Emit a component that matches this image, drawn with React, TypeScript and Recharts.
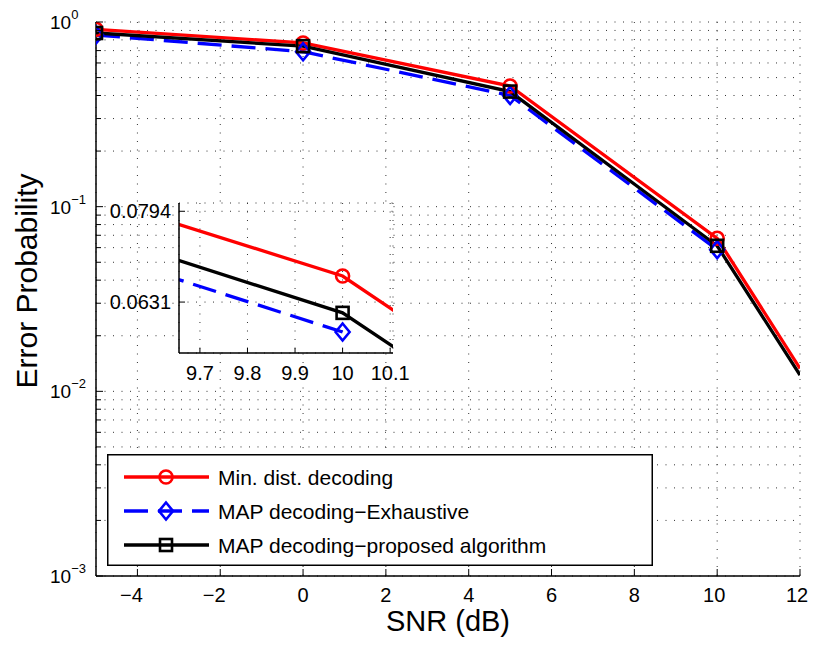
import React from 'react';
import { LineChart, Line, XAxis, YAxis, CartesianGrid, Legend } from 'recharts';

const FONT = '"Liberation Sans", Arial, Helvetica, sans-serif';

// ---- data ----
const SNR = [-5, 0, 5, 10, 12];
const MIN_DIST = [0.913, 0.77, 0.45, 0.0674, 0.0133];
const MAP_EXHAUSTIVE = [0.85, 0.69, 0.4, 0.0585, null];
const MAP_PROPOSED = [0.872, 0.74, 0.42, 0.0614, 0.01226];
const MARKED_SNR = [-5, 0, 5, 10];

const X_TICKS = [-4, -2, 0, 2, 4, 6, 8, 10, 12];
const X_DOMAIN = [-5, 12];
const Y_MAJOR = [0.001, 0.01, 0.1, 1];
const Y_MINOR_MULT = [2, 3, 4, 5, 6, 7, 8, 9];
const Y_DOMAIN = [0.001, 1];

const INSET_X_TICKS = [9.7, 9.8, 9.9, 10, 10.1];
const INSET_X_DOMAIN = [9.656, 10.106];
const INSET_Y_TICKS = [0.0631, 0.0794];
const INSET_Y_DOMAIN = [0.05547, 0.08108];

const SERIES = [
  { key: 'minDist', name: 'Min. dist. decoding', color: '#ff0000', dash: undefined as string | undefined, marker: 'circle' },
  { key: 'mapExh', name: 'MAP decoding\u2212Exhaustive', color: '#0000ff', dash: '24 10', marker: 'diamond' },
  { key: 'mapProp', name: 'MAP decoding\u2212proposed algorithm', color: '#000000', dash: undefined as string | undefined, marker: 'square' },
];

const data = SNR.map((s, i) => ({
  snr: s,
  minDist: MIN_DIST[i],
  mapExh: MAP_EXHAUSTIVE[i],
  mapProp: MAP_PROPOSED[i],
}));

const Y_TICKS = [
  ...Y_MAJOR,
  ...Y_MAJOR.slice(0, 3).flatMap((d) => Y_MINOR_MULT.map((m) => +(m * d).toPrecision(6))),
];

const isMajor = (v: number) => Math.abs(Math.log10(v) - Math.round(Math.log10(v))) < 1e-6;
const fmtX = (v: number) => (v < 0 ? `\u2212${Math.abs(v)}` : `${v}`);

const LW = 3.3;
const GRID_DASH = '1 7.5';
const GRID_COLOR = '#333';

function Marker({ kind, cx, cy, color }: { kind: string; cx: number; cy: number; color: string }) {
  if (kind === 'circle')
    return <circle cx={cx} cy={cy} r={6.5} fill="none" stroke={color} strokeWidth={2.6} />;
  if (kind === 'square')
    return <rect x={cx - 6} y={cy - 6} width={12} height={12} fill="none" stroke={color} strokeWidth={2.6} />;
  return (
    <polygon
      points={`${cx},${cy - 8.5} ${cx + 7},${cy} ${cx},${cy + 8.5} ${cx - 7},${cy}`}
      fill="none"
      stroke={color}
      strokeWidth={2.6}
    />
  );
}

const makeDot = (kind: string, color: string, tag: string) => (props: any) => {
  const { cx, cy, payload, index, value } = props;
  const k = `${tag}-${kind}-${index}`;
  if (cx == null || cy == null || value == null || Number.isNaN(cy) || !payload || !MARKED_SNR.includes(payload.snr))
    return <g key={k} />;
  return (
    <g key={k}>
      <Marker kind={kind} cx={cx} cy={cy} color={color} />
    </g>
  );
};

// ---- main chart ticks ----
function MainLeftTick(props: any) {
  const { x, y, payload } = props;
  const v = payload.value as number;
  const major = isMajor(v);
  const exp = Math.round(Math.log10(v));
  return (
    <g>
      <line x1={x} x2={x + (major ? 7 : 5)} y1={y} y2={y} stroke="#000" strokeWidth={1} />
      {major && (
        <text x={x - 46} y={y + 7} textAnchor="start" fontFamily={FONT} fontSize={19} fill="#000">
          <tspan>10</tspan>
          <tspan dy={-10} fontSize={13}>{exp === 0 ? '0' : `\u2212${Math.abs(exp)}`}</tspan>
        </text>
      )}
    </g>
  );
}
function MainRightTick(props: any) {
  const { x, y, payload } = props;
  const major = isMajor(payload.value);
  return <line x1={x} x2={x - (major ? 7 : 5)} y1={y} y2={y} stroke="#000" strokeWidth={1} />;
}
function MainBottomTick(props: any) {
  const { x, y, payload } = props;
  const v = payload.value as number;
  const dx = v < 0 ? -6 : v >= 10 ? -3 : 0;
  return (
    <g>
      <line x1={x} x2={x} y1={y} y2={y - 7} stroke="#000" strokeWidth={1} />
      <text x={x + dx} y={y + 26} textAnchor="middle" fontFamily={FONT} fontSize={20} fill="#000">
        {fmtX(v)}
      </text>
    </g>
  );
}
function MainTopTick(props: any) {
  const { x, y } = props;
  return <line x1={x} x2={x} y1={y} y2={y + 7} stroke="#000" strokeWidth={1} />;
}

// ---- inset ticks ----
function InsetLeftTick(props: any) {
  const { x, y, payload } = props;
  return (
    <g>
      <line x1={x} x2={x + 6} y1={y} y2={y} stroke="#000" strokeWidth={1} />
      <text x={x - 8} y={y + 7} textAnchor="end" fontFamily={FONT} fontSize={20} fill="#000">
        {(payload.value as number).toFixed(4)}
      </text>
    </g>
  );
}
function InsetRightTick(props: any) {
  const { x, y } = props;
  return <line x1={x} x2={x - 6} y1={y} y2={y} stroke="#000" strokeWidth={1} />;
}
function InsetBottomTick(props: any) {
  const { x, y, payload } = props;
  return (
    <g>
      <line x1={x} x2={x} y1={y} y2={y - 5} stroke="#000" strokeWidth={1} />
      <text x={x} y={y + 27} textAnchor="middle" fontFamily={FONT} fontSize={20} fill="#000">
        {String(payload.value)}
      </text>
    </g>
  );
}
function InsetTopTick(props: any) {
  const { x, y } = props;
  return <line x1={x} x2={x} y1={y} y2={y + 5} stroke="#000" strokeWidth={1} />;
}

// ---- legend ----
const LEGEND_W = 546;
const LEGEND_H = 112;
function LegendBox() {
  const rows = [23, 57, 91];
  return (
    <svg width={LEGEND_W} height={LEGEND_H} style={{ display: 'block' }}>
      <rect x={0.75} y={0.75} width={LEGEND_W - 1.5} height={LEGEND_H - 1.5} fill="#fff" stroke="#000" strokeWidth={1.5} />
      {SERIES.map((s, i) => (
        <g key={s.key}>
          <line x1={17} x2={102} y1={rows[i]} y2={rows[i]} stroke={s.color} strokeWidth={LW} strokeDasharray={s.dash} />
          <Marker kind={s.marker} cx={59} cy={rows[i]} color={s.color} />
          <text x={111} y={rows[i] + 7.5} fontFamily={FONT} fontSize={21} fill="#000">
            {s.name}
          </text>
        </g>
      ))}
    </svg>
  );
}

export default function App() {
  return (
    <div style={{ position: 'relative', width: 800, height: 632, background: '#fff' }}>
      <style>{`.recharts-surface{overflow:visible !important;} .recharts-wrapper{overflow:visible !important;}`}</style>
      <LineChart width={800} height={632} data={data} margin={{ top: 14, right: 8, bottom: 34, left: 8 }}>
        <CartesianGrid stroke={GRID_COLOR} strokeDasharray={GRID_DASH} strokeWidth={1} />
        <XAxis
          dataKey="snr"
          type="number"
          domain={X_DOMAIN}
          ticks={X_TICKS}
          interval={0}
          allowDataOverflow
          height={30}
          tickSize={0}
          tickMargin={0}
          tickLine={false}
          axisLine={{ stroke: '#000', strokeWidth: 1.5 }}
          tick={<MainBottomTick />}
          label={{
            content: (p: any) => (
              <text
                x={p.viewBox.x + p.viewBox.width / 2}
                y={p.viewBox.y + 55}
                textAnchor="middle"
                fontFamily={FONT}
                fontSize={29}
                fill="#000"
              >
                SNR (dB)
              </text>
            ),
          }}
        />
        <XAxis
          xAxisId="top"
          dataKey="snr"
          orientation="top"
          type="number"
          domain={X_DOMAIN}
          ticks={X_TICKS}
          interval={0}
          allowDataOverflow
          height={0}
          tickSize={0}
          tickMargin={0}
          tickLine={false}
          axisLine={{ stroke: '#000', strokeWidth: 1.5 }}
          tick={<MainTopTick />}
        />
        <YAxis
          scale="log"
          type="number"
          domain={Y_DOMAIN}
          ticks={Y_TICKS}
          interval={0}
          allowDataOverflow
          width={80}
          tickSize={0}
          tickMargin={0}
          tickLine={false}
          axisLine={{ stroke: '#000', strokeWidth: 1.5 }}
          tick={<MainLeftTick />}
          label={{
            content: (p: any) => {
              const cx = p.viewBox.x + 21;
              const cy = p.viewBox.y + p.viewBox.height / 2 - 18;
              return (
                <text
                  x={cx}
                  y={cy}
                  transform={`rotate(-90 ${cx} ${cy})`}
                  textAnchor="middle"
                  fontFamily={FONT}
                  fontSize={30}
                  fill="#000"
                >
                  Error Probability
                </text>
              );
            },
          }}
        />
        <YAxis
          yAxisId="right"
          orientation="right"
          scale="log"
          type="number"
          domain={Y_DOMAIN}
          ticks={Y_TICKS}
          interval={0}
          allowDataOverflow
          width={0}
          tickSize={0}
          tickMargin={0}
          tickLine={false}
          axisLine={{ stroke: '#000', strokeWidth: 1.5 }}
          tick={<MainRightTick />}
        />
        {SERIES.map((s) => (
          <Line
            key={s.key}
            dataKey={s.key}
            name={s.name}
            type="linear"
            stroke={s.color}
            strokeWidth={LW}
            strokeDasharray={s.dash}
            dot={makeDot(s.marker, s.color, 'main')}
            activeDot={false}
            connectNulls={false}
            isAnimationActive={false}
          />
        ))}
        <Legend
          layout="horizontal"
          verticalAlign="middle"
          align="center"
          content={() => <LegendBox />}
          wrapperStyle={{ position: 'absolute', left: 99, top: 446, width: LEGEND_W, height: LEGEND_H, margin: 0, padding: 0 }}
        />
      </LineChart>

      <div style={{ position: 'absolute', left: 92, top: 187 }}>
        <LineChart width={300} height={195} data={data} margin={{ top: 8, right: 7, bottom: 7, left: 0 }}>
          <CartesianGrid stroke={GRID_COLOR} strokeDasharray={GRID_DASH} strokeWidth={1} fill="#fff" fillOpacity={1} />
          <XAxis
            dataKey="snr"
            type="number"
            domain={INSET_X_DOMAIN}
            ticks={INSET_X_TICKS}
            interval={0}
            allowDataOverflow
            height={30}
            tickSize={0}
            tickMargin={0}
            tickLine={false}
            axisLine={{ stroke: '#000', strokeWidth: 1.5 }}
            tick={<InsetBottomTick />}
          />
          <XAxis
            xAxisId="top"
            dataKey="snr"
            orientation="top"
            type="number"
            domain={INSET_X_DOMAIN}
            ticks={INSET_X_TICKS}
            interval={0}
            allowDataOverflow
            height={0}
            tickSize={0}
            tickMargin={0}
            tickLine={false}
            axisLine={{ stroke: '#000', strokeWidth: 1.5 }}
            tick={<InsetTopTick />}
          />
          <YAxis
            scale="log"
            type="number"
            domain={INSET_Y_DOMAIN}
            ticks={INSET_Y_TICKS}
            interval={0}
            allowDataOverflow
            width={79}
            tickSize={0}
            tickMargin={0}
            tickLine={false}
            axisLine={{ stroke: '#000', strokeWidth: 1.5 }}
            tick={<InsetLeftTick />}
          />
          <YAxis
            yAxisId="right"
            orientation="right"
            scale="log"
            type="number"
            domain={INSET_Y_DOMAIN}
            ticks={INSET_Y_TICKS}
            interval={0}
            allowDataOverflow
            width={0}
            tickSize={0}
            tickMargin={0}
            tickLine={false}
            axisLine={{ stroke: '#000', strokeWidth: 1.5 }}
            tick={<InsetRightTick />}
          />
          {SERIES.map((s) => (
            <Line
              key={s.key}
              dataKey={s.key}
              name={s.name}
              type="linear"
              stroke={s.color}
              strokeWidth={LW}
              strokeDasharray={s.dash}
              dot={makeDot(s.marker, s.color, 'inset')}
              activeDot={false}
              connectNulls={false}
              isAnimationActive={false}
            />
          ))}
        </LineChart>
      </div>
    </div>
  );
}
